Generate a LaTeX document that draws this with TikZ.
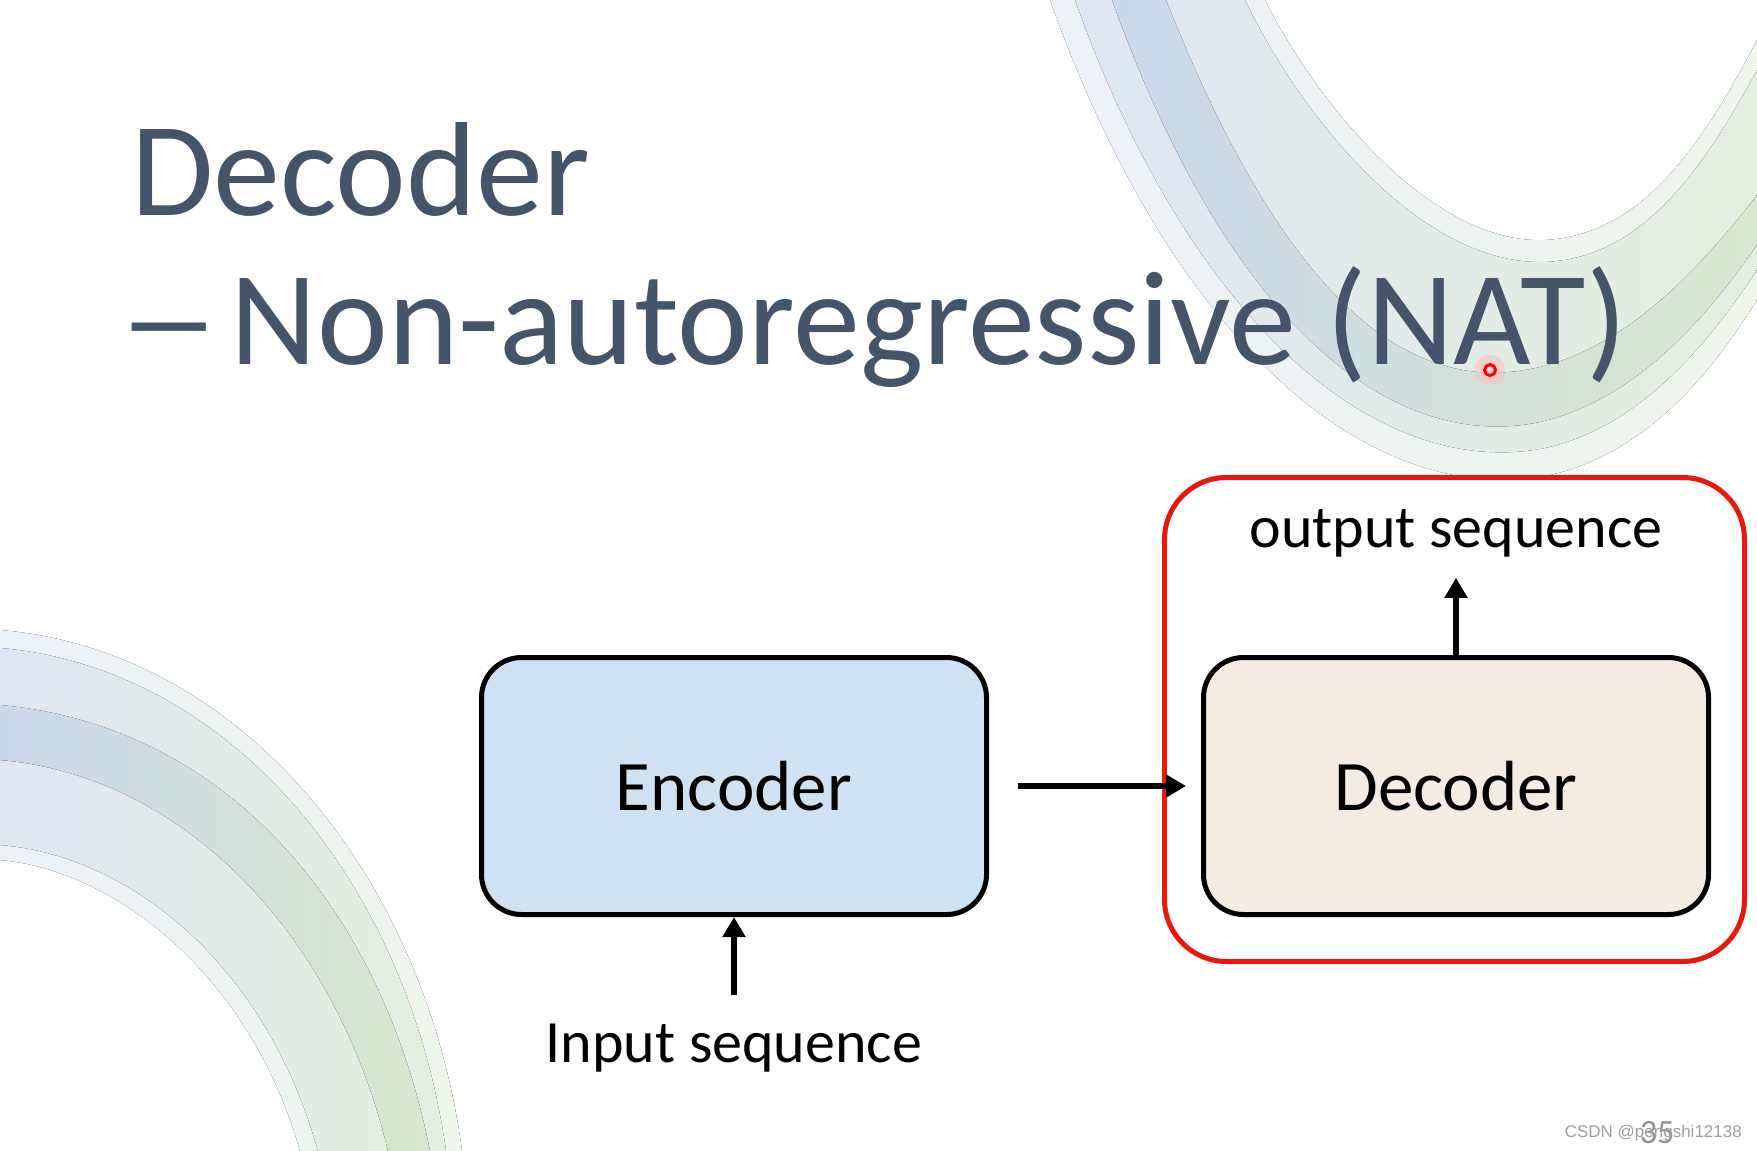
\documentclass[tikz,border=0pt]{standalone}
\usepackage{fontspec}
\setmainfont{Carlito}
\newfontfamily\markfont{Liberation Sans}
\usepackage{tikz}
\usetikzlibrary{arrows.meta,positioning,calc}

\definecolor{titleblue}{RGB}{68,84,106}
\definecolor{encfill}{RGB}{207,226,244}
\definecolor{decfill}{RGB}{244,235,225}
\definecolor{framered}{RGB}{232,24,14}
\definecolor{haloblue}{RGB}{236,241,248}
\definecolor{halogreen}{RGB}{239,246,236}
\definecolor{swblue}{RGB}{222,231,243}
\definecolor{swgreen}{RGB}{228,240,222}
\definecolor{stblue}{RGB}{202,216,236}
\definecolor{stgreen}{RGB}{214,231,203}

\begin{document}
\begin{tikzpicture}[x=1pt, y=-1pt,
      block/.style={draw, line width=5pt, rounded corners=40pt, align=center,
                    minimum width=505pt, minimum height=257pt,
                    font=\fontsize{71}{80}\selectfont},
      redframe/.style={draw=framered, line width=5pt, rounded corners=62pt,
                       minimum width=580pt, minimum height=484pt},
      seqlabel/.style={inner sep=0pt, anchor=base, font=\fontsize{60}{70}\selectfont},
      title/.style={inner sep=0pt, anchor=base west, text=titleblue,
                    font=\fontsize{134}{150}\selectfont},
      >={Triangle[length=20pt,width=22pt]}]

    \useasboundingbox (0,0) rectangle (1757,1151);
    \fill[white] (0,0) rectangle (1757,1151);

    % background swooshes
    \fill[left color=haloblue, right color=halogreen]
      (1050,0) .. controls (1175,350) and (1375,510) .. (1550,475)
      .. controls (1660,450) and (1725,350) .. (1757,300) -- (1757,40)
      .. controls (1700,150) and (1640,235) .. (1545,240)
      .. controls (1430,245) and (1315,100) .. (1265,0) -- cycle;
    \fill[left color=swblue, right color=swgreen]
      (1075,0) .. controls (1195,335) and (1385,480) .. (1545,448)
      .. controls (1650,425) and (1720,325) .. (1757,270) -- (1757,70)
      .. controls (1700,175) and (1640,258) .. (1545,262)
      .. controls (1420,266) and (1300,115) .. (1245,0) -- cycle;
    \fill[left color=stblue, right color=stgreen]
      (1112,0) .. controls (1227,320) and (1387,450) .. (1535,423)
      .. controls (1640,402) and (1715,305) .. (1757,245) -- (1757,195)
      .. controls (1705,262) and (1625,354) .. (1525,370)
      .. controls (1395,392) and (1277,280) .. (1166,0) -- cycle;
    \fill[left color=haloblue, right color=halogreen]
      (0,630) .. controls (240,650) and (425,875) .. (462,1151) -- (300,1151)
      .. controls (250,975) and (115,870) .. (0,860) -- cycle;
    \fill[left color=swblue, right color=swgreen]
      (0,648) .. controls (230,668) and (408,882) .. (446,1151) -- (318,1151)
      .. controls (265,962) and (128,855) .. (0,845) -- cycle;
    \fill[left color=stblue, right color=stgreen]
      (0,705) .. controls (220,725) and (380,900) .. (430,1151) -- (388,1151)
      .. controls (335,930) and (180,775) .. (0,760) -- cycle;

    % title
    \node[title] (t1) at (131,215) {Decoder};
    \node[title] (t2) at (117,364) {\scalebox{1.55}[1]{–}\hspace{-20pt} Non-autoregressive (NAT)};

    % pointer
    \fill[red!25, opacity=0.6] (1490,370) circle (15pt);
    \draw[red, line width=3pt, fill=red!15] (1490,370) circle (5.5pt);

    % diagram
    \node[block, fill=encfill] (enc) at (734,786) {Encoder};
    \node[block, fill=decfill] (dec) at (1456,786) {Decoder};
    \node[redframe] (frame) at (1454.5,719.5) {};

    \node[seqlabel] (inseq) at (734,1062) {Input sequence};
    \node[seqlabel] (outseq) at (1456,547) {output sequence};

    \draw[->, line width=6.5pt, shorten <=29pt, shorten >=15pt] (enc.east) -- (dec.west);
    \draw[->, line width=6.5pt, shorten <=28pt] (inseq.north) -- (enc.south);
    \draw[->, line width=6.5pt, shorten >=21pt] (dec.north) -- (outseq.south);

    % page number and mark
    \node[inner sep=0pt, anchor=base, text=gray!85, font=\fontsize{34}{40}\selectfont]
      (pagenum) at (1657,1143) {35};
    \node[inner sep=0pt, anchor=base east, text=gray!75, font=\markfont\fontsize{17}{20}\selectfont]
      (mark) at (1742,1137) {CSDN @pengshi12138};
  \end{tikzpicture}
\end{document}
